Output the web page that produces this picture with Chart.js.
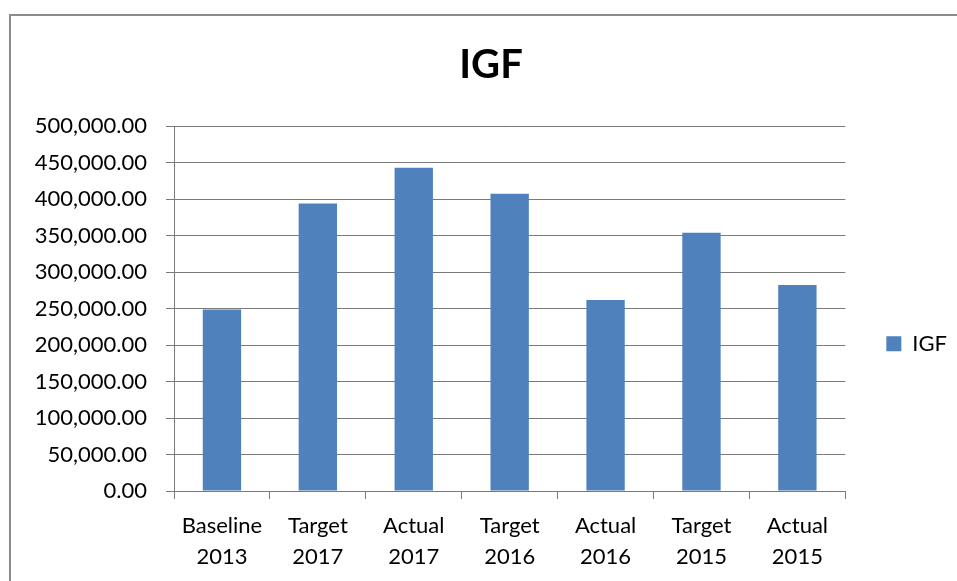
<!DOCTYPE html>
<html>
<head>
<meta charset="utf-8">
<script src="https://cdn.jsdelivr.net/npm/chart.js@4.4.1/dist/chart.umd.min.js"></script>
<style>
  html, body { margin: 0; padding: 0; background: #fff; overflow: hidden; }
  #frame { position: absolute; left: 9px; top: 14px; width: 1000px; height: 700px; border: 2px solid #8c8c8c; }
  #myChart { position: absolute; left: 0; top: 0; }
</style>
</head>
<body>
<div id="frame"></div>
<canvas id="myChart" width="957" height="581"></canvas>
<script>
// categories (two lines each) and values
var categorias = [
    ['Baseline', '2013'],
    ['Target', '2017'],
    ['Actual', '2017'],
    ['Target', '2016'],
    ['Actual', '2016'],
    ['Target', '2015'],
    ['Actual', '2015']
];
var valoresIGF = [248600, 394000, 442700, 407300, 261600, 353700, 282200];
var tituloGrafico = 'IGF';
var nomeSerie = 'IGF';
var eixoMin = 0;
var eixoMax = 500000;
var eixoPasso = 50000;

var cinza = '#7a7a7a';
var fonte = 'Lato';

var ctx = document.getElementById("myChart");
var myChart = new Chart(ctx, {
    type: 'bar',
    data: {
        labels: categorias,
        datasets: [{
            label: nomeSerie,
            data: valoresIGF,
            backgroundColor: '#4f81bd',
            borderWidth: 0,
            barPercentage: 0.4,
            categoryPercentage: 1
        }]
    },
    options: {
        responsive: false,
        animation: false,
        layout: { padding: { left: 25, right: 0, top: 0, bottom: 0 } },
        plugins: {
            title: {
                display: true,
                text: tituloGrafico,
                color: '#000',
                font: { family: fonte, size: 40, weight: 'bold', lineHeight: 1.2 },
                padding: { top: 41, bottom: 37 }
            },
            legend: {
                position: 'right',
                title: { display: true, text: '', font: { size: 12, lineHeight: 1.2 }, padding: { top: 92, bottom: 0 } },
                labels: {
                    boxWidth: 15,
                    boxHeight: 15,
                    padding: 41,
                    color: '#000',
                    font: { family: fonte, size: 22 }
                }
            },
            tooltip: { enabled: false }
        },
        scales: {
            x: {
                grid: { display: true, drawOnChartArea: false, drawTicks: true, tickLength: 8, color: cinza, offset: true },
                border: { color: cinza, width: 1 },
                ticks: {
                    color: '#000',
                    padding: 11,
                    maxRotation: 0,
                    autoSkip: false,
                    font: { family: fonte, size: 22, lineHeight: 1.41 }
                },
                afterFit: function (scale) { scale.height = 90; }
            },
            y: {
                min: eixoMin,
                max: eixoMax,
                grid: { color: cinza, tickLength: 8 },
                border: { color: cinza, width: 1 },
                ticks: {
                    stepSize: eixoPasso,
                    color: '#000',
                    padding: 19,
                    font: { family: fonte, size: 22 },
                    callback: function (v) {
                        return v.toLocaleString('en-US', { minimumFractionDigits: 2, maximumFractionDigits: 2 });
                    }
                },
                afterFit: function (scale) { scale.width = 149; }
            }
        }
    }
});
</script>
</body>
</html>
